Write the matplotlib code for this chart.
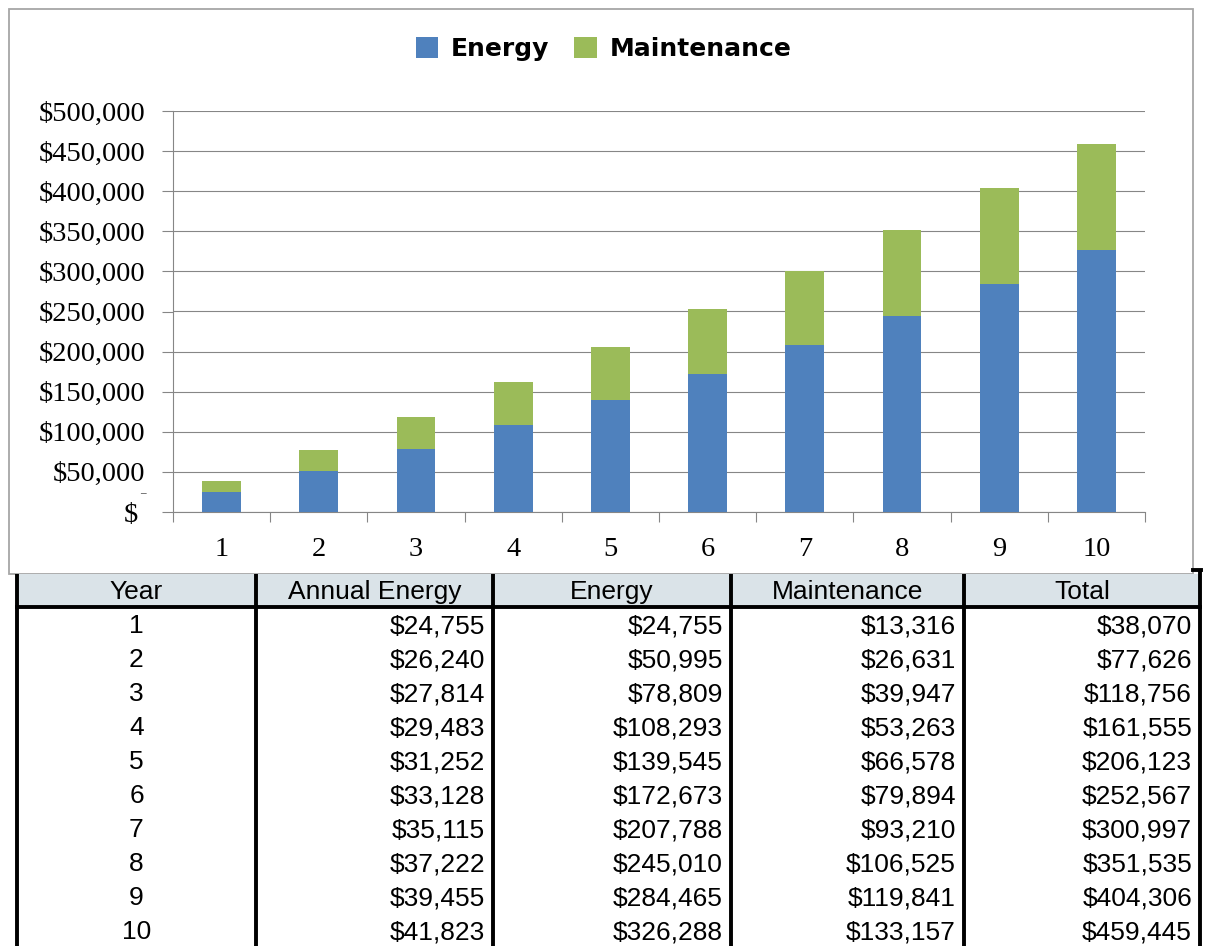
import matplotlib
matplotlib.use("Agg")
import matplotlib.pyplot as plt
from matplotlib.patches import Rectangle, Patch
from matplotlib.ticker import FixedLocator, FuncFormatter

# ---- data ----
years = [1, 2, 3, 4, 5, 6, 7, 8, 9, 10]
annual_energy = [24755, 26240, 27814, 29483, 31252, 33128, 35115, 37222, 39455, 41823]
energy = [24755, 50995, 78809, 108293, 139545, 172673, 207788, 245010, 284465, 326288]
maintenance = [13316, 26631, 39947, 53263, 66578, 79894, 93210, 106525, 119841, 133157]
total = [38070, 77626, 118756, 161555, 206123, 252567, 300997, 351535, 404306, 459445]
y_ticks = [0, 50000, 100000, 150000, 200000, 250000, 300000, 350000, 400000, 450000, 500000]
col_labels = ["Year", "Annual Energy", "Energy", "Maintenance", "Total"]

BLUE = "#4F81BD"
GREEN = "#9BBB59"
GRID = "#868686"

W, H = 1207, 946
fig = plt.figure(figsize=(W / 100, H / 100), dpi=100)

# background overlay axes in pixel coordinates (chart frame + table)
bg = fig.add_axes([0, 0, 1, 1])
bg.set_xlim(0, W)
bg.set_ylim(H, 0)
bg.axis("off")
bg.add_patch(Rectangle((9, 9), 1184, 565, fill=False, edgecolor="#A6A6A6", lw=1.3))

# ---- chart ----
ax = fig.add_axes([173 / W, 1 - 512 / H, (1145 - 173) / W, (512 - 111) / H])
x = list(range(len(years)))
ax.bar(x, energy, width=0.4, color=BLUE, zorder=3)
ax.bar(x, maintenance, width=0.4, bottom=energy, color=GREEN, zorder=3)
ax.set_xlim(-0.5, len(years) - 0.5)
ax.set_ylim(0, 500000)
ax.yaxis.set_major_locator(FixedLocator(y_ticks))
ax.yaxis.set_major_formatter(FuncFormatter(lambda v, p: "$ " if v == 0 else "${:,.0f}".format(v)))
ax.grid(axis="y", color=GRID, lw=0.8, zorder=0)
ax.set_xticks(x)
ax.set_xticklabels([str(y) for y in years])
ax.set_xticks([i - 0.5 for i in range(len(years) + 1)], minor=True)
ax.tick_params(axis="x", which="major", length=0, pad=18)
ax.tick_params(axis="x", which="minor", length=7.5, color=GRID, width=0.8)
ax.tick_params(axis="y", which="major", length=8, color=GRID, width=0.8, pad=12)
for lab in ax.get_xticklabels() + ax.get_yticklabels():
    lab.set_fontfamily("Liberation Serif")
    lab.set_fontsize(20.5)
for s in ["top", "right"]:
    ax.spines[s].set_visible(False)
ax.spines["left"].set_color(GRID)
ax.spines["bottom"].set_color(GRID)
ax.spines["left"].set_linewidth(0.8)
ax.spines["bottom"].set_linewidth(0.8)
fig.text(143 / W, 1 - 490 / H, "_", fontsize=8, family="Liberation Serif", ha="center", va="center")

handles = [Patch(facecolor=BLUE, label="Energy"), Patch(facecolor=GREEN, label="Maintenance")]
fig.legend(handles=handles, loc="center", bbox_to_anchor=(0.5, 1 - 49 / H), ncol=2, frameon=False,
           prop={"family": "DejaVu Sans", "weight": "bold", "size": 18}, handlelength=0.9,
           handleheight=0.9, handletextpad=0.5, columnspacing=1.0)

# ---- table ----
col_x = [17, 256, 493, 731, 964, 1200]
head_top, head_bot, row_h = 574, 607, 34
fs = 19
bg.add_patch(Rectangle((col_x[0], head_top), col_x[-1] - col_x[0], head_bot - head_top,
                       facecolor="#DAE3E8", edgecolor="none", zorder=1))
for j, lab in enumerate(col_labels):
    bg.text((col_x[j] + col_x[j + 1]) / 2, (head_top + head_bot) / 2 + 1, lab, ha="center", va="center",
            fontsize=fs, family="Liberation Sans", zorder=3)
rows = list(zip(years, annual_energy, energy, maintenance, total))
for i, r in enumerate(rows):
    yc = head_bot + row_h * i + row_h / 2 + 2
    bg.text((col_x[0] + col_x[1]) / 2, yc, str(r[0]), ha="center", va="center",
            fontsize=fs, family="Liberation Sans", zorder=3)
    for j in range(1, 5):
        bg.text(col_x[j + 1] - 8, yc, "${:,.0f}".format(r[j]), ha="right", va="center",
                fontsize=fs, family="Liberation Sans", zorder=3)
table_bottom = head_bot + row_h * len(rows) + 2
for cx in col_x:
    bg.plot([cx, cx], [head_top - (4 if cx == col_x[-1] else 0), table_bottom], color="black", lw=2.8,
            solid_capstyle="butt", zorder=4)
bg.plot([col_x[0], col_x[-1]], [head_bot, head_bot], color="black", lw=2.8, zorder=4)
bg.plot([1193, col_x[-1] + 1], [head_top - 4, head_top - 4], color="black", lw=2.8, zorder=4)

fig.savefig("out.png", dpi=100)
